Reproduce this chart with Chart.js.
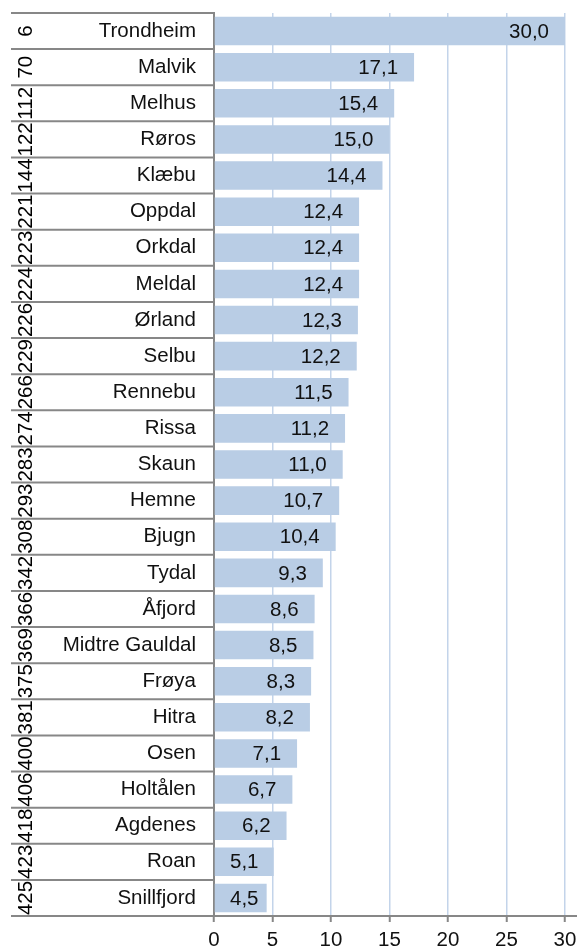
<!DOCTYPE html>
<html>
<head>
<meta charset="utf-8">
<script src="https://cdn.jsdelivr.net/npm/chart.js@4.4.1/dist/chart.umd.min.js"></script>
<style>
  html, body { margin: 0; padding: 0; background: #fff; }
  #wrap { width: 577px; height: 950px; }
</style>
</head>
<body>
<div id="wrap"><canvas id="kommuneChart"></canvas></div>
<script>
var kommuner = ["Trondheim", "Malvik", "Melhus", "Røros", "Klæbu", "Oppdal", "Orkdal",
  "Meldal", "Ørland", "Selbu", "Rennebu", "Rissa", "Skaun", "Hemne", "Bjugn", "Tydal",
  "Åfjord", "Midtre Gauldal", "Frøya", "Hitra", "Osen", "Holtålen", "Agdenes", "Roan", "Snillfjord"];
var verdier = [30.0, 17.1, 15.4, 15.0, 14.4, 12.4, 12.4, 12.4, 12.3, 12.2, 11.5, 11.2,
  11.0, 10.7, 10.4, 9.3, 8.6, 8.5, 8.3, 8.2, 7.1, 6.7, 6.2, 5.1, 4.5];
var rangering = ["6", "70", "112", "122", "144", "221", "223", "224", "226", "229", "266",
  "274", "283", "293", "308", "342", "366", "369", "375", "381", "400", "406", "418", "423", "425"];
var xTicks = [0, 5, 10, 15, 20, 25, 30];

var FONT = "'Liberation Sans', Arial, sans-serif";
var FSIZE = 20.5;
var GRAY = "#878787";

// rank numbers (rotated) + row separators on the left
var leftColumn = {
  id: 'leftColumn',
  afterDraw: function(chart) {
    var c = chart.ctx, y = chart.scales.y, area = chart.chartArea;
    var n = kommuner.length;
    c.save();
    c.strokeStyle = GRAY;
    c.lineWidth = 2;
    for (var i = 0; i <= n; i++) {
      var py;
      if (i == 0) py = area.top;
      else if (i == n) py = area.bottom;
      else py = (y.getPixelForValue(i - 1) + y.getPixelForValue(i)) / 2;
      c.beginPath();
      c.moveTo(11, py);
      c.lineTo(area.left, py);
      c.stroke();
    }
    // bottom axis line runs across the whole width
    c.beginPath();
    c.moveTo(11, area.bottom);
    c.lineTo(chart.width, area.bottom);
    c.stroke();

    c.fillStyle = "#000";
    c.font = FSIZE + "px " + FONT;
    c.textAlign = "center";
    c.textBaseline = "middle";
    for (var j = 0; j < n; j++) {
      c.save();
      c.translate(26, y.getPixelForValue(j));
      c.rotate(-Math.PI / 2);
      c.fillText(rangering[j], 0, 0);
      c.restore();
    }
    c.restore();
  }
};

// value labels inside bar end
var valueLabels = {
  id: 'valueLabels',
  afterDatasetsDraw: function(chart) {
    var c = chart.ctx, meta = chart.getDatasetMeta(0), area = chart.chartArea;
    c.save();
    c.fillStyle = "#111";
    c.font = FSIZE + "px " + FONT;
    c.textAlign = "left";
    c.textBaseline = "middle";
    meta.data.forEach(function(bar, i) {
      var txt = verdier[i].toFixed(1).replace(".", ",");
      var w = c.measureText(txt).width;
      var x = Math.max(bar.x - 16 - w, area.left + 16);
      c.fillText(txt, x, bar.y + 1);
    });
    c.restore();
  }
};

var ctx = document.getElementById("kommuneChart").getContext('2d');
var kommuneChart = new Chart(ctx, {
  type: 'bar',
  data: {
    labels: kommuner,
    datasets: [{
      data: verdier,
      backgroundColor: "#b9cde5",
      borderWidth: 0,
      barPercentage: 0.79,
      categoryPercentage: 1.0
    }]
  },
  options: {
    indexAxis: 'y',
    responsive: true,
    maintainAspectRatio: false,
    animation: false,
    layout: { padding: { top: 13, right: 12, left: 0, bottom: 0 } },
    plugins: {
      legend: { display: false },
      tooltip: { enabled: false }
    },
    scales: {
      x: {
        min: 0,
        max: 30,
        afterFit: function(s) { s.height = 34; s.paddingLeft = 0; s.paddingRight = 0; },
        afterBuildTicks: function(s) { s.ticks = xTicks.map(function(v) { return { value: v }; }); },
        grid: { color: "#c3d4ea", lineWidth: 1.5, tickColor: GRAY, tickLength: 6, tickWidth: 2 },
        border: { display: true, color: GRAY, width: 2 },
        ticks: { color: "#111", font: { family: FONT, size: FSIZE }, padding: 6, maxRotation: 0 }
      },
      y: {
        afterFit: function(s) { s.width = 214; s.paddingTop = 0; s.paddingBottom = 0; },
        grid: { display: false, drawTicks: false },
        border: { display: true, color: GRAY, width: 2 },
        ticks: { color: "#111", font: { family: FONT, size: FSIZE }, padding: 18, autoSkip: false }
      }
    }
  },
  plugins: [leftColumn, valueLabels]
});
</script>
</body>
</html>
